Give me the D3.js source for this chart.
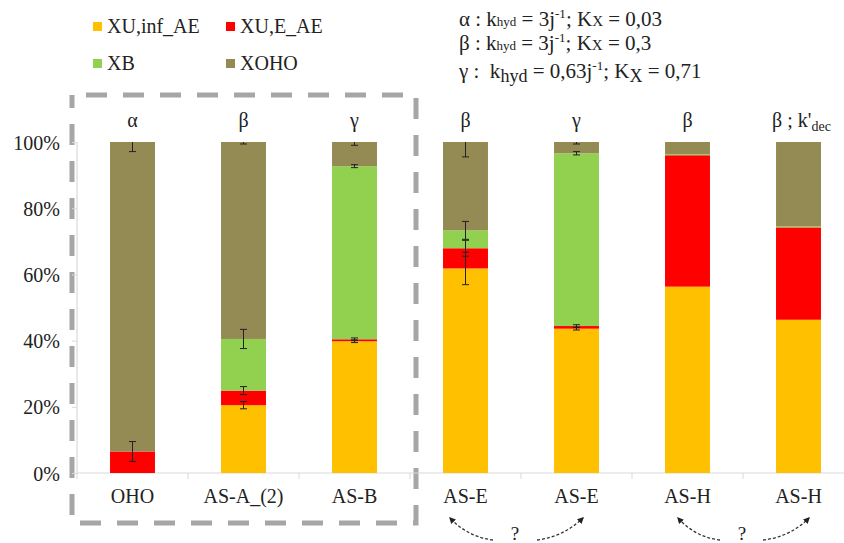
<!DOCTYPE html>
<html><head><meta charset="utf-8">
<script src="https://cdn.jsdelivr.net/npm/d3@7"></script>
</head><body style="margin:0"><svg id="c" width="844" height="543"></svg>
<script>
// ---- data ----
const categories = ["OHO","AS-A_(2)","AS-B","AS-E","AS-E","AS-H","AS-H"];
const scenario = ["α","β","γ","β","γ","β","β ; k'"];
const seriesNames = ["XU,inf_AE","XU,E_AE","XB","XOHO"];
const seriesColors = ["#FFC000","#FF0000","#92D050","#948A54"];
const xuInf = [0, 20.5, 39.8, 61.8, 43.6, 56.3, 46.3];
const xuE   = [6.5, 4.4, 0.6, 6.1, 0.8, 39.7, 27.9];
const xb    = [0, 15.6, 52.3, 5.4, 52.2, 0.3, 0.3];
const xoho  = [93.5, 59.5, 7.3, 26.7, 3.4, 3.7, 25.5];
const errInf = [0, 1.1, 0.4, 4.9, 0.4, 0, 0];
const errE   = [3.0, 1.2, 0.4, 2.4, 0.4, 0, 0];
const errB   = [0, 2.9, 0.45, 2.7, 0.5, 0, 0];
const errOho = [2.9, 0.6, 1.0, 4.5, 0.6, 0, 0];
const yTicks = [0, 20, 40, 60, 80, 100];

const FONT = "Liberation Serif";
const svg = d3.select("#c").attr("font-family", FONT);
const x = d3.scaleBand().domain(d3.range(categories.length)).range([77, 854])
  .paddingInner(0.595).paddingOuter(0.2975);
const y = d3.scaleLinear().domain([0, 100]).range([473, 142]);

const rows = categories.map((c, i) => ({i, v: [xuInf[i], xuE[i], xb[i], xoho[i]], e: [errInf[i], errE[i], errB[i], errOho[i]]}));
const table = rows.map(r => ({i: r.i, s0: r.v[0], s1: r.v[1], s2: r.v[2], s3: r.v[3]}));
const stack = d3.stack().keys(["s0","s1","s2","s3"])(table);

function txt(parent) { return parent.append("text").attr("font-family", FONT).attr("fill", "#222"); }

// dashed box
svg.append("path")
  .attr("d", "M72,95 H416 V523 H72 Z")
  .attr("fill", "none").attr("stroke", "#a6a6a6").attr("stroke-width", 5)
  .attr("stroke-dasharray", "21 16").attr("stroke-dashoffset", 23);

// axes
const ax = svg.append("g");
ax.append("line").attr("x1", 77).attr("x2", 844).attr("y1", y(0)).attr("y2", y(0)).attr("stroke", "#d9d9d9").attr("stroke-width", 1.2);
ax.append("line").attr("x1", 77).attr("x2", 77).attr("y1", y(0)).attr("y2", y(100)).attr("stroke", "#d9d9d9").attr("stroke-width", 1.2);
d3.range(categories.length + 1).forEach(k => {
  const xx = 77 + k * x.step();
  ax.append("line").attr("x1", xx).attr("x2", xx).attr("y1", y(0)).attr("y2", y(0) + 6).attr("stroke", "#d9d9d9");
});
const yAxis = d3.axisLeft(y).tickValues(yTicks).tickFormat(d => d + "%").tickSize(5).tickPadding(12);
const yg = svg.append("g").attr("transform", "translate(77,0)").call(yAxis);
yg.attr("font-family", FONT).attr("font-size", 20);
yg.select(".domain").remove();
yg.selectAll("line").attr("stroke", "#d9d9d9");
yg.selectAll("text").attr("font-family", FONT).attr("font-size", 20).attr("fill", "#222").attr("dy", "0.35em");

// bars
svg.append("g").selectAll("g").data(stack).join("g")
  .attr("fill", (d, k) => seriesColors[k])
  .selectAll("rect").data(d => d).join("rect")
  .attr("x", d => x(d.data.i)).attr("width", x.bandwidth())
  .attr("y", d => y(d[1])).attr("height", d => y(d[0]) - y(d[1]));

// error bars
const eg = svg.append("g").attr("stroke", "#222").attr("stroke-width", 1);
rows.forEach(r => {
  let cum = 0;
  r.v.forEach((v, k) => {
    cum += v;
    const e = r.e[k];
    if (!e) return;
    const cx = x(r.i) + x.bandwidth() / 2;
    const top = Math.min(100, cum + e), bot = cum - e;
    eg.append("line").attr("x1", cx).attr("x2", cx).attr("y1", y(top)).attr("y2", y(bot));
    if (cum + e <= 100) eg.append("line").attr("x1", cx - 3.5).attr("x2", cx + 3.5).attr("y1", y(top)).attr("y2", y(top));
    eg.append("line").attr("x1", cx - 3.5).attr("x2", cx + 3.5).attr("y1", y(bot)).attr("y2", y(bot));
  });
});

// category labels
categories.forEach((c, i) => txt(svg).attr("x", x(i) + x.bandwidth() / 2).attr("y", 503)
  .attr("text-anchor", "middle").attr("font-size", 20).text(c));

// scenario labels
scenario.forEach((s, i) => {
  const t = txt(svg).attr("x", x(i) + x.bandwidth() / 2 + (i === 6 ? 3 : 0)).attr("y", 127)
    .attr("text-anchor", "middle").attr("font-size", 20);
  t.append("tspan").text(s);
  if (i === 6) t.append("tspan").attr("font-size", 14).attr("dy", 4).text("dec");
});

// legend
const legPos = [[93, 33], [226, 33], [93, 70], [226, 70]];
seriesNames.forEach((n, k) => {
  const [lx, ly] = legPos[k];
  svg.append("rect").attr("x", lx).attr("y", ly - 11).attr("width", 9).attr("height", 9).attr("fill", seriesColors[k]);
  txt(svg).attr("x", lx + 14).attr("y", ly).attr("font-size", 20).text(n);
});

// parameter annotation
function annot(yy, greek, sp, hydBig, kval, kx) {
  const t = txt(svg).attr("x", 459).attr("y", yy).attr("font-size", 21);
  t.append("tspan").text(greek + " :" + sp + " k");
  if (hydBig) t.append("tspan").attr("font-size", 18).attr("dy", 4).text("hyd");
  else t.append("tspan").attr("font-size", 13).text("hyd");
  t.append("tspan").attr("dy", hydBig ? -4 : 0).text("\u00a0= " + kval + "j");
  t.append("tspan").attr("font-size", 13).attr("dy", -8).text("-1");
  t.append("tspan").attr("dy", 8).text("; K");
  if (hydBig) t.append("tspan").attr("font-size", 18).attr("dy", 4).text("X");
  else t.append("tspan").attr("font-size", 15).text("X");
  t.append("tspan").attr("dy", hydBig ? -4 : 0).text("\u00a0= " + kx);
}
annot(26, "α", "", false, "3", "0,03");
annot(50, "β", "", false, "3", "0,3");
annot(78, "γ", "\u00a0", true, "0,63", "0,71");

// arrows
const defs = svg.append("defs");
defs.append("marker").attr("id", "ah").attr("viewBox", "0 0 10 10").attr("refX", 8).attr("refY", 5)
  .attr("markerWidth", 5).attr("markerHeight", 5).attr("orient", "auto")
  .append("path").attr("d", "M0,0 L10,5 L0,10 Z").attr("fill", "#222");
const arrows = [
  [493, 540, 468, 537, 450, 518],
  [537, 540, 563, 537, 583, 518],
  [720, 540, 695, 537, 678, 518],
  [763, 540, 790, 537, 809, 518]
];
arrows.forEach(a => {
  svg.append("path").attr("d", `M${a[0]},${a[1]} Q${a[2]},${a[3]} ${a[4]},${a[5]}`)
    .attr("fill", "none").attr("stroke", "#333").attr("stroke-width", 1.3)
    .attr("stroke-dasharray", "3 2").attr("marker-end", "url(#ah)");
});
[515, 742].forEach(qx => txt(svg).attr("x", qx).attr("y", 540).attr("text-anchor", "middle").attr("font-size", 19).text("?"));
</script></body></html>
